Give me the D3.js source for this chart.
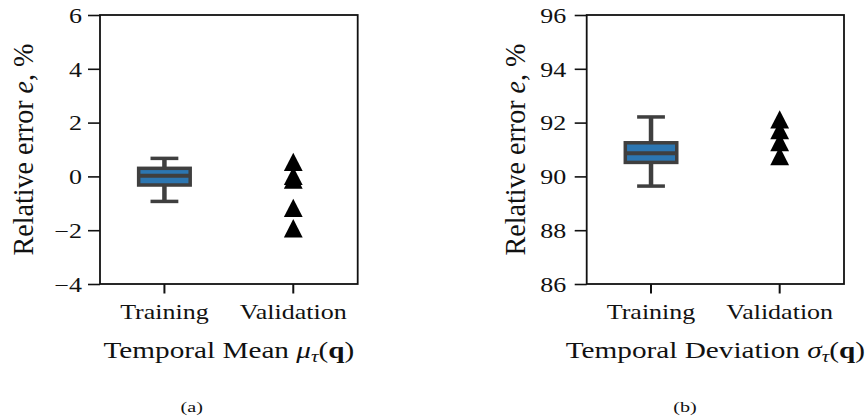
<!DOCTYPE html>
<html lang="en">
<head>
    <meta charset="UTF-8">
    <title>Relative error</title>
    <style>
        body { margin: 0; background: #fff; }
        text { font-family: "Liberation Serif", serif; fill: #111; }
    </style>
    <script src="https://cdn.jsdelivr.net/npm/d3@7"></script>
</head>
<body>
<svg class="chart" width="868" height="419"></svg>
<script>
    const categories = ['Training', 'Validation'],
        meanTicks = [-4, -2, 0, 2, 4, 6],
        devTicks = [86, 88, 90, 92, 94, 96],
        // box stats: whisker low, q1, median, q3, whisker high
        meanTrainBox = [-0.93, -0.32, 0.02, 0.30, 0.67],
        meanValidation = [0.54, 0.02, -0.12, -1.17, -1.93],
        devTrainBox = [89.64, 90.52, 90.86, 91.25, 92.21],
        devValidation = [92.12, 91.72, 91.28, 90.76];

    const stretch = 1.3,   // the figure is wider than tall, text looks stretched
        boxBlue = '#2c76b1',
        boxGrey = '#3f3f3f';

    const panels = [
        {left: 100, right: 357.7, domain: [-4, 6], ticks: meanTicks, box: meanTrainBox, pts: meanValidation,
            labelX: 33, tickGap: 18, title: ['Temporal Mean ', 'μ'], caption: '(a)', capX: 191.7},
        {left: 586.7, right: 844, domain: [86, 96], ticks: devTicks, box: devTrainBox, pts: devValidation,
            labelX: 525, tickGap: 20.5, title: ['Temporal Deviation ', 'σ'], caption: '(b)', capX: 685}
    ];
    const plotTop = 15, plotBottom = 284;

    const svg = d3.select('.chart');

    panels.forEach(p => {
        let x = d3.scaleBand().domain(categories).range([p.left, p.right]),
            y = d3.scaleLinear().domain(p.domain).range([plotBottom, plotTop]),
            g = svg.append('g');

        // y axis
        let yAx = g.append('g')
            .attr('transform', 'translate(' + p.left + ',0)')
            .call(d3.axisLeft(y).tickValues(p.ticks).tickSize(12).tickSizeOuter(0));
        yAx.select('.domain').remove();
        yAx.selectAll('line').attr('stroke', '#111').attr('stroke-width', 1.6);
        yAx.selectAll('text')
            .attr('x', 0).attr('dy', '0.36em')
            .attr('transform', 'translate(' + (-p.tickGap) + ',0) scale(' + stretch + ',1)')
            .attr('font-family', '"Liberation Serif", serif')
            .attr('fill', '#111')
            .attr('font-size', 20);

        // x axis
        let xAx = g.append('g')
            .attr('transform', 'translate(0,' + plotBottom + ')')
            .call(d3.axisBottom(x).tickSize(9.5).tickSizeOuter(0));
        xAx.select('.domain').remove();
        xAx.selectAll('line').attr('stroke', '#111').attr('stroke-width', 2);
        xAx.selectAll('text')
            .attr('y', 0).attr('dy', null)
            .attr('transform', 'translate(0,35) scale(' + stretch + ',1)')
            .attr('font-family', '"Liberation Serif", serif')
            .attr('fill', '#111')
            .attr('font-size', 20);

        // frame
        g.append('rect')
            .attr('x', p.left).attr('y', plotTop)
            .attr('width', p.right - p.left).attr('height', plotBottom - plotTop)
            .attr('fill', 'none').attr('stroke', '#111').attr('stroke-width', 1.8);

        // training box plot
        let cx = x('Training') + x.bandwidth() / 2,
            bw = x.bandwidth() * 0.4,
            b = p.box,
            bg = g.append('g');
        bg.selectAll('line.whisker')
            .data([[b[0], b[1]], [b[3], b[4]]]).enter().append('line')
            .attr('x1', cx).attr('x2', cx)
            .attr('y1', d => y(d[0])).attr('y2', d => y(d[1]))
            .attr('stroke', boxGrey).attr('stroke-width', 4.5);
        bg.selectAll('line.cap')
            .data([b[0], b[4]]).enter().append('line')
            .attr('x1', cx - bw * 0.27).attr('x2', cx + bw * 0.27)
            .attr('y1', d => y(d)).attr('y2', d => y(d))
            .attr('stroke', boxGrey).attr('stroke-width', 3.5);
        bg.append('rect')
            .attr('x', cx - bw / 2).attr('width', bw)
            .attr('y', y(b[3])).attr('height', y(b[1]) - y(b[3]))
            .attr('fill', boxBlue).attr('stroke', boxGrey).attr('stroke-width', 3.5);
        bg.append('line')
            .attr('x1', cx - bw / 2).attr('x2', cx + bw / 2)
            .attr('y1', y(b[2])).attr('y2', y(b[2]))
            .attr('stroke', boxGrey).attr('stroke-width', 4);

        // validation markers
        let vx = x('Validation') + x.bandwidth() / 2;
        g.selectAll('path.tri')
            .data(p.pts).enter().append('path')
            .attr('class', 'tri')
            .attr('d', 'M0,-9.2L9.4,9.2L-9.4,9.2Z')
            .attr('transform', d => 'translate(' + vx + ',' + y(d) + ')')
            .attr('fill', '#000');

        // y label
        let yl = g.append('text')
            .attr('transform', 'translate(' + p.labelX + ',' + ((plotTop + plotBottom) / 2) + ') scale(' + stretch + ',1) rotate(-90)')
            .attr('text-anchor', 'middle')
            .attr('font-size', 22)
            .attr('textLength', 212)
            .attr('lengthAdjust', 'spacingAndGlyphs');
        yl.append('tspan').text('Relative error ');
        yl.append('tspan').attr('font-style', 'italic').text('e');
        yl.append('tspan').text(', %');

        // x title
        let xt = g.append('text')
            .attr('transform', 'translate(' + ((p.left + p.right) / 2) + ',358) scale(' + stretch + ',1)')
            .attr('text-anchor', 'middle')
            .attr('font-size', 22.5);
        xt.append('tspan').text(p.title[0]);
        xt.append('tspan').attr('font-style', 'italic').text(p.title[1]);
        xt.append('tspan').attr('font-style', 'italic').attr('font-size', 16).attr('dy', 4).text('τ');
        xt.append('tspan').attr('dy', -4).text('(');
        xt.append('tspan').attr('font-weight', 'bold').text('q');
        xt.append('tspan').text(')');

        // caption
        svg.append('text')
            .attr('transform', 'translate(' + p.capX + ',412) scale(' + stretch + ',1)')
            .attr('text-anchor', 'middle')
            .attr('font-size', 15.5)
            .text(p.caption);
    });
</script>
</body>
</html>
